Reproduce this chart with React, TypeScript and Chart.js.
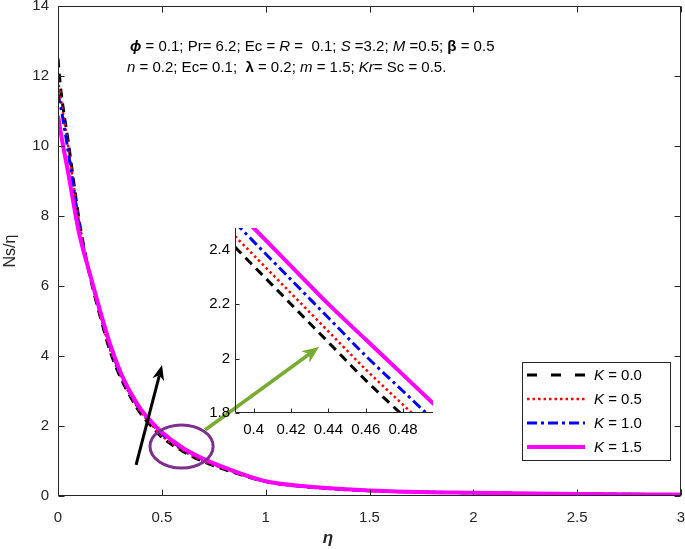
import React, { useEffect, useRef } from "react";
import { Chart, registerables } from "chart.js";
Chart.register(...registerables);

// ---------- data ----------
const eta = [0, 0.01, 0.02, 0.05, 0.075, 0.1, 0.15, 0.2, 0.25, 0.3, 0.35, 0.4, 0.45, 0.5, 0.6, 0.7, 0.8, 0.9, 1.0, 1.2, 1.5, 2.0, 2.5, 3.0];
const nsK00 = [12.5, 11.8, 11.3, 10.1, 9.0, 7.95, 6.38, 5.2, 4.15, 3.4, 2.82, 2.34, 1.99, 1.68, 1.28, 0.98, 0.76, 0.57, 0.41, 0.26, 0.15, 0.09, 0.06, 0.04];
const nsK05 = [11.9, 11.5, 11.1, 9.95, 8.9, 7.9, 6.4, 5.25, 4.2, 3.45, 2.86, 2.38, 2.04, 1.72, 1.31, 1.0, 0.78, 0.58, 0.41, 0.26, 0.15, 0.09, 0.06, 0.04];
const nsK10 = [11.5, 11.2, 10.9, 9.8, 8.8, 7.8, 6.41, 5.3, 4.28, 3.5, 2.9, 2.43, 2.09, 1.77, 1.35, 1.03, 0.8, 0.59, 0.42, 0.27, 0.16, 0.09, 0.06, 0.04];
const nsK15 = [10.86, 10.5, 10.15, 9.2, 8.35, 7.55, 6.42, 5.35, 4.35, 3.55, 2.95, 2.47, 2.12, 1.82, 1.38, 1.06, 0.82, 0.6, 0.42, 0.27, 0.16, 0.09, 0.06, 0.04];

const insetEta = [0.39, 0.4, 0.42, 0.44, 0.46, 0.48, 0.5];
const insetK00 = [2.41, 2.34, 2.2, 2.06, 1.92, 1.79, 1.66];
const insetK05 = [2.45, 2.38, 2.24, 2.1, 1.96, 1.83, 1.7];
const insetK10 = [2.5, 2.43, 2.29, 2.15, 2.01, 1.88, 1.75];
const insetK15 = [2.55, 2.48, 2.34, 2.2, 2.07, 1.94, 1.81];

const kValues = ["0.0", "0.5", "1.0", "1.5"];

const xTicks = [0, 0.5, 1, 1.5, 2, 2.5, 3];
const xTickLabels = ["0", "0.5", "1", "1.5", "2", "2.5", "3"];
const yTicks = [0, 2, 4, 6, 8, 10, 12, 14];
const yTickLabels = ["0", "2", "4", "6", "8", "10", "12", "14"];
const insetXTicks = [0.4, 0.42, 0.44, 0.46, 0.48];
const insetXTickLabels = ["0.4", "0.42", "0.44", "0.46", "0.48"];
const insetYTicks = [1.8, 2, 2.2, 2.4];
const insetYTickLabels = ["1.8", "2", "2.2", "2.4"];

// annotation anchors in data coordinates
const blackArrowFrom = [0.376, 0.886];
const blackArrowTo = [0.501, 3.74];
const greenArrowFrom = [0.708, 1.886];
const greenArrowTo = [1.257, 4.257];
const ellipseCenter = [0.595, 1.414];
const ellipseRadii = [0.152, 0.614];

const paramLine1: [string, string][] = [
  ["ϕ", "bi"], [" = 0.1; Pr= 6.2; Ec = ", ""], ["R", "i"], [" =  0.1; ", ""], ["S", "i"],
  [" =3.2; ", ""], ["M", "i"], [" =0.5; ", ""], ["β", "b"], [" = 0.5", ""],
];
const paramLine2: [string, string][] = [
  ["n", "i"], [" = 0.2; Ec= 0.1;  ", ""], ["λ", "b"], [" = 0.2; ", ""], ["m", "i"],
  [" = 1.5; ", ""], ["Kr", "i"], ["= Sc = 0.5.", ""],
];

// ---------- styles ----------
const FONT = "'Liberation Sans', Arial, Helvetica, sans-serif";
const AX = "#262626";
const styles = [
  { color: "#000000", width: 3, dash: [9, 6], legendDash: [10, 14] },
  { color: "#FF0000", width: 2.5, dash: [2.5, 3], legendDash: [2.5, 3] },
  { color: "#0000FF", width: 3, dash: [10, 4, 3, 4], legendDash: [10, 4, 3, 4] },
  { color: "#FF00FF", width: 4, dash: [], legendDash: [] },
];

function makeDatasets(xs: number[], series: number[][]) {
  return series.map((ys, i) => ({
    label: "K = " + kValues[i],
    data: xs.map((x, j) => ({ x, y: ys[j] })),
    borderColor: styles[i].color,
    borderWidth: styles[i].width,
    borderDash: styles[i].dash,
    pointRadius: 0,
    fill: false,
    cubicInterpolationMode: "monotone" as const,
    order: 3 - i,
  }));
}

function zeroPad(s: any) {
  s.paddingLeft = 0; s.paddingRight = 0; s.paddingTop = 0; s.paddingBottom = 0;
}

function drawArrow(ctx: CanvasRenderingContext2D, x0: number, y0: number, x1: number, y1: number,
  color: string, width: number, headLen: number, headW: number) {
  const ang = Math.atan2(y1 - y0, x1 - x0);
  const c = Math.cos(ang), s = Math.sin(ang);
  const bx = x1 - headLen * c, by = y1 - headLen * s;
  const nx = x1 - headLen * 0.7 * c, ny = y1 - headLen * 0.7 * s;
  ctx.setLineDash([]);
  ctx.strokeStyle = color;
  ctx.lineWidth = width;
  ctx.lineCap = "butt";
  ctx.beginPath();
  ctx.moveTo(x0, y0);
  ctx.lineTo(nx, ny);
  ctx.stroke();
  ctx.fillStyle = color;
  ctx.beginPath();
  ctx.moveTo(x1, y1);
  ctx.lineTo(bx + (headW / 2) * s, by - (headW / 2) * c);
  ctx.lineTo(nx, ny);
  ctx.lineTo(bx - (headW / 2) * s, by + (headW / 2) * c);
  ctx.closePath();
  ctx.fill();
}

function drawRuns(ctx: CanvasRenderingContext2D, runs: [string, string][], x: number, y: number, size: number) {
  let cx = x;
  for (const [t, st] of runs) {
    const bold = st.includes("b") ? "bold " : "";
    const ital = st.includes("i") ? "italic " : "";
    ctx.font = `${ital}${bold}${size}px ${FONT}`;
    ctx.fillText(t, cx, y);
    cx += ctx.measureText(t).width;
  }
}

const mainDecor = {
  id: "mainDecor",
  afterDatasetsDraw(chart: any) {
    const { ctx, chartArea: a, scales } = chart;
    const x = scales.x, y = scales.y;
    ctx.save();

    // box
    ctx.setLineDash([]);
    ctx.strokeStyle = AX;
    ctx.lineWidth = 1;
    const L = Math.round(a.left) + 0.5, R = Math.round(a.right) - 0.5;
    const T = Math.round(a.top) + 0.5, B = Math.round(a.bottom) - 0.5;
    ctx.strokeRect(L, T, R - L, B - T);
    // inward ticks
    const tl = 6;
    ctx.beginPath();
    for (const v of xTicks) {
      const px = Math.round(x.getPixelForValue(v)) + 0.5;
      ctx.moveTo(px, B); ctx.lineTo(px, B - tl);
      ctx.moveTo(px, T); ctx.lineTo(px, T + tl);
    }
    for (const v of yTicks) {
      const py = Math.round(y.getPixelForValue(v)) + 0.5;
      ctx.moveTo(L, py); ctx.lineTo(L + tl, py);
      ctx.moveTo(R, py); ctx.lineTo(R - tl, py);
    }
    ctx.stroke();

    // ellipse
    const ex = x.getPixelForValue(ellipseCenter[0]);
    const ey = y.getPixelForValue(ellipseCenter[1]);
    const erx = x.getPixelForValue(ellipseCenter[0] + ellipseRadii[0]) - ex;
    const ery = ey - y.getPixelForValue(ellipseCenter[1] + ellipseRadii[1]);
    ctx.strokeStyle = "#7E2F8E";
    ctx.lineWidth = 3;
    ctx.beginPath();
    ctx.ellipse(ex, ey, erx, ery, 0, 0, Math.PI * 2);
    ctx.stroke();

    // arrows
    drawArrow(ctx, x.getPixelForValue(blackArrowFrom[0]), y.getPixelForValue(blackArrowFrom[1]),
      x.getPixelForValue(blackArrowTo[0]), y.getPixelForValue(blackArrowTo[1]), "#000000", 3, 15, 12);
    drawArrow(ctx, x.getPixelForValue(greenArrowFrom[0]), y.getPixelForValue(greenArrowFrom[1]),
      x.getPixelForValue(greenArrowTo[0]), y.getPixelForValue(greenArrowTo[1]), "#77AC30", 3.5, 17, 14);

    // parameter text
    ctx.fillStyle = "#000000";
    ctx.textBaseline = "alphabetic";
    ctx.textAlign = "left";
    drawRuns(ctx, paramLine1, 130, 51, 15);
    drawRuns(ctx, paramLine2, 127, 72, 15);

    // axis titles
    ctx.fillStyle = AX;
    ctx.font = `16px ${FONT}`;
    ctx.textAlign = "center";
    ctx.textBaseline = "middle";
    ctx.save();
    ctx.translate(11, (a.top + a.bottom) / 2);
    ctx.rotate(-Math.PI / 2);
    ctx.fillText("Ns/η", 0, 0);
    ctx.restore();
    ctx.font = `italic bold 17px ${FONT}`;
    ctx.fillText("η", 328, 538);

    // legend
    const lx = 522.5, ly = 362.5, lw = 148, lh = 98;
    ctx.fillStyle = "#ffffff";
    ctx.fillRect(lx, ly, lw, lh);
    ctx.strokeStyle = AX;
    ctx.lineWidth = 1;
    ctx.setLineDash([]);
    ctx.strokeRect(lx, ly, lw, lh);
    for (let i = 0; i < 4; i++) {
      const yy = 375 + i * 24;
      ctx.strokeStyle = styles[i].color;
      ctx.lineWidth = styles[i].width;
      ctx.setLineDash(styles[i].legendDash);
      ctx.beginPath();
      ctx.moveTo(527, yy);
      ctx.lineTo(585, yy);
      ctx.stroke();
      ctx.setLineDash([]);
      ctx.fillStyle = "#000000";
      ctx.textAlign = "left";
      ctx.textBaseline = "middle";
      drawRuns(ctx, [["K", "i"], [" = " + kValues[i], ""]], 594, yy + 1, 15);
    }
    ctx.restore();
  },
};

const insetDecor = {
  id: "insetDecor",
  afterDatasetsDraw(chart: any) {
    const { ctx, chartArea: a, scales } = chart;
    const x = scales.x, y = scales.y;
    ctx.save();
    ctx.setLineDash([]);
    ctx.strokeStyle = AX;
    ctx.lineWidth = 1;
    const L = Math.round(a.left) + 0.5, B = Math.round(a.bottom) - 0.5;
    const R = Math.round(a.right), T = Math.round(a.top);
    ctx.beginPath();
    ctx.moveTo(L, T); ctx.lineTo(L, B); ctx.lineTo(R, B);
    const tl = 4;
    for (const v of insetXTicks) {
      const px = Math.round(x.getPixelForValue(v)) + 0.5;
      ctx.moveTo(px, B); ctx.lineTo(px, B - tl);
    }
    for (const v of insetYTicks) {
      const py = Math.round(y.getPixelForValue(v)) + 0.5;
      ctx.moveTo(L, py); ctx.lineTo(L + tl, py);
    }
    ctx.stroke();
    ctx.restore();
  },
};

export default function App() {
  const mainRef = useRef<HTMLCanvasElement>(null);
  const insetRef = useRef<HTMLCanvasElement>(null);

  useEffect(() => {
    const tickFont = { family: FONT, size: 15 };
    const main = new Chart(mainRef.current as HTMLCanvasElement, {
      type: "line",
      data: { datasets: makeDatasets(eta, [nsK00, nsK05, nsK10, nsK15]) as any },
      options: {
        animation: false,
        responsive: false,
        devicePixelRatio: 1,
        layout: { padding: { left: 0, right: 4, top: 6, bottom: 0 } },
        plugins: { legend: { display: false }, tooltip: { enabled: false } },
        scales: {
          x: {
            type: "linear", min: 0, max: 3,
            grid: { display: false, drawTicks: false },
            border: { display: false },
            afterBuildTicks: (s: any) => { s.ticks = xTicks.map((v) => ({ value: v })); },
            ticks: { callback: (_v: any, i: number) => xTickLabels[i], font: tickFont, color: AX, padding: 13, maxRotation: 0, autoSkip: false },
            afterFit: (s: any) => { s.height = 53; zeroPad(s); },
          },
          y: {
            type: "linear", min: 0, max: 14,
            grid: { display: false, drawTicks: false },
            border: { display: false },
            afterBuildTicks: (s: any) => { s.ticks = yTicks.map((v) => ({ value: v })); },
            ticks: { callback: (_v: any, i: number) => yTickLabels[i], font: tickFont, color: AX, padding: 9, autoSkip: false },
            afterFit: (s: any) => { s.width = 58; zeroPad(s); },
          },
        },
      } as any,
      plugins: [mainDecor],
    });

    const inset = new Chart(insetRef.current as HTMLCanvasElement, {
      type: "line",
      data: { datasets: makeDatasets(insetEta, [insetK00, insetK05, insetK10, insetK15]) as any },
      options: {
        animation: false,
        responsive: false,
        devicePixelRatio: 1,
        layout: { padding: { left: 0, right: 12, top: 13, bottom: 0 } },
        plugins: { legend: { display: false }, tooltip: { enabled: false } },
        scales: {
          x: {
            type: "linear", min: 0.39, max: 0.496,
            grid: { display: false, drawTicks: false },
            border: { display: false },
            afterBuildTicks: (s: any) => { s.ticks = insetXTicks.map((v) => ({ value: v })); },
            ticks: { callback: (_v: any, i: number) => insetXTickLabels[i], font: tickFont, color: "#000000", padding: 8, maxRotation: 0, autoSkip: false },
            afterFit: (s: any) => { s.height = 37; zeroPad(s); },
          },
          y: {
            type: "linear", min: 1.8, max: 2.48,
            grid: { display: false, drawTicks: false },
            border: { display: false },
            afterBuildTicks: (s: any) => { s.ticks = insetYTicks.map((v) => ({ value: v })); },
            ticks: { callback: (_v: any, i: number) => insetYTickLabels[i], font: tickFont, color: "#000000", padding: 5, autoSkip: false },
            afterFit: (s: any) => { s.width = 50; zeroPad(s); },
          },
        },
      } as any,
      plugins: [insetDecor],
    });

    return () => {
      main.destroy();
      inset.destroy();
    };
  }, []);

  return (
    <div style={{ position: "absolute", left: 0, top: 0, width: 685, height: 549, background: "#ffffff", overflow: "hidden" }}>
      <canvas ref={mainRef} width={685} height={549} style={{ position: "absolute", left: 0, top: 0 }} />
      <canvas ref={insetRef} width={260} height={235} style={{ position: "absolute", left: 185, top: 215 }} />
    </div>
  );
}
